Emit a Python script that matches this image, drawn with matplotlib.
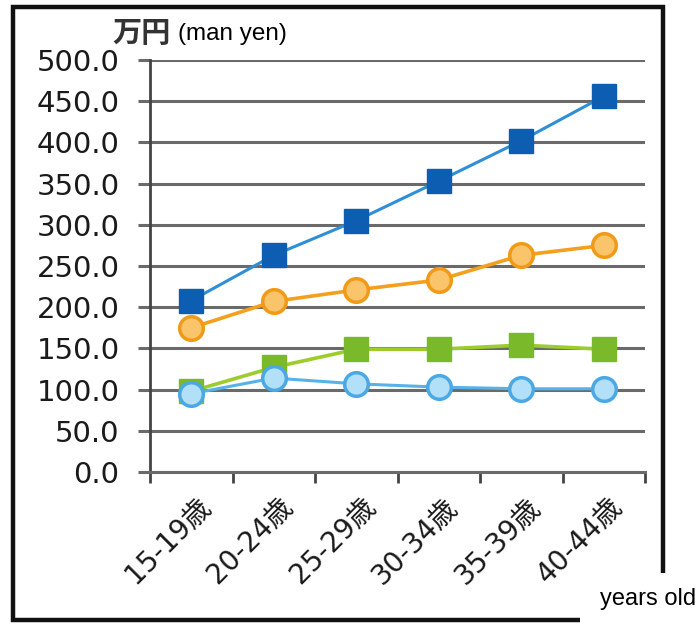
import matplotlib
matplotlib.use("Agg")
import matplotlib.pyplot as plt
from matplotlib.patches import Rectangle
from matplotlib.transforms import ScaledTranslation

plt.rcParams['font.family'] = ['DejaVu Sans', 'Noto Sans CJK JP']

# Age groups and yearly income (万円) for four groups
age_groups = ["15-19歳", "20-24歳", "25-29歳", "30-34歳", "35-39歳", "40-44歳"]
series_a = [208, 263, 305, 353, 402, 456]   # dark blue squares
series_b = [175, 207, 221, 233, 263, 275]   # orange circles
series_c = [98, 127, 149, 149, 154, 149]    # green squares
series_d = [95, 114, 107, 103, 101, 101]    # light blue circles
y_ticks = [0, 50, 100, 150, 200, 250, 300, 350, 400, 450, 500]

W, H = 699, 624
fig = plt.figure(figsize=(W / 100, H / 100), dpi=100)
fig.patch.set_facecolor("white")

# outer frame
fig.patches.append(Rectangle((13 / W, 1 - 620 / H), (663 - 13) / W, (620 - 7) / H,
                             transform=fig.transFigure, fill=False,
                             edgecolor="#111111", linewidth=3.2, zorder=0))

ax = fig.add_axes([150 / W, 1 - 472 / H, (645 - 150) / W, (472 - 60) / H])
x = list(range(len(age_groups)))

ax.set_xlim(-0.5, len(age_groups) - 0.5)
ax.set_ylim(0, 500)
ax.set_yticks(y_ticks)
ax.set_yticklabels([f"{v:.1f}" for v in y_ticks])
ax.yaxis.grid(True, color="#6a6a6a", linewidth=2.2, zorder=1)
ax.set_axisbelow(True)

for s in ["top", "right"]:
    ax.spines[s].set_visible(False)
ax.spines["left"].set_color("#444444")
ax.spines["left"].set_linewidth(2.0)
ax.spines["bottom"].set_color("#6a6a6a")
ax.spines["bottom"].set_linewidth(2.2)

ax.tick_params(axis="y", length=9, width=2.2, color="#6a6a6a", pad=13,
               labelsize=21, labelcolor="#1a1a1a")
# category boundary ticks on x
ax.set_xticks([i - 0.5 for i in range(len(age_groups) + 1)], minor=False)
ax.set_xticklabels([""] * (len(age_groups) + 1))
ax.tick_params(axis="x", which="major", length=8, width=2.0, color="#444444")
ax.set_xticks(x, minor=True)
ax.set_xticklabels(age_groups, minor=True, rotation=45, ha="right",
                   rotation_mode="anchor", fontsize=20, color="#1a1a1a")
ax.tick_params(axis="x", which="minor", length=0, pad=15)
shift = ScaledTranslation(5 / 100, 0, fig.dpi_scale_trans)
for lbl in ax.get_xticklabels(minor=True):
    lbl.set_fontfamily(['DejaVu Sans', 'Noto Sans CJK JP'])
    lbl.set_transform(lbl.get_transform() + shift)

ax.plot(x, series_a, color="#2e8ed6", linewidth=2.2, marker="s", markersize=17,
        markerfacecolor="#0d5eb3", markeredgecolor="#0d5eb3", zorder=3)
ax.plot(x, series_b, color="#f3a01f", linewidth=2.6, marker="o", markersize=17,
        markerfacecolor="#f9c46a", markeredgecolor="#f09a18", markeredgewidth=2.5,
        zorder=3)
ax.plot(x, series_c, color="#9ccc2e", linewidth=2.6, marker="s", markersize=17,
        markerfacecolor="#79b92a", markeredgecolor="#79b92a", zorder=4)
ax.plot(x, series_d, color="#58b2ea", linewidth=2.2, marker="o", markersize=17,
        markerfacecolor="#b2e0f8", markeredgecolor="#4aa8e4", markeredgewidth=2.5,
        zorder=5)

fig.text(112 / W, 1 - 33 / H, "万円", fontsize=21, fontweight="bold",
         family=["Noto Sans CJK JP"], color="#333333", va="center", ha="left")
fig.text(178 / W, 1 - 34 / H, "(man yen)", fontsize=17.5, family=["Liberation Sans"],
         color="#000000", va="center", ha="left")

# unit label box at lower right
fig.patches.append(Rectangle((580 / W, 0), (W - 580) / W, (624 - 573) / H,
                             transform=fig.transFigure, facecolor="white",
                             edgecolor="none", zorder=5))
fig.text(696 / W, 1 - 599 / H, "years old", fontsize=17, family=["Liberation Sans"],
         color="#000000", va="center", ha="right", zorder=6)

fig.savefig("out.png", dpi=100, facecolor="white")
